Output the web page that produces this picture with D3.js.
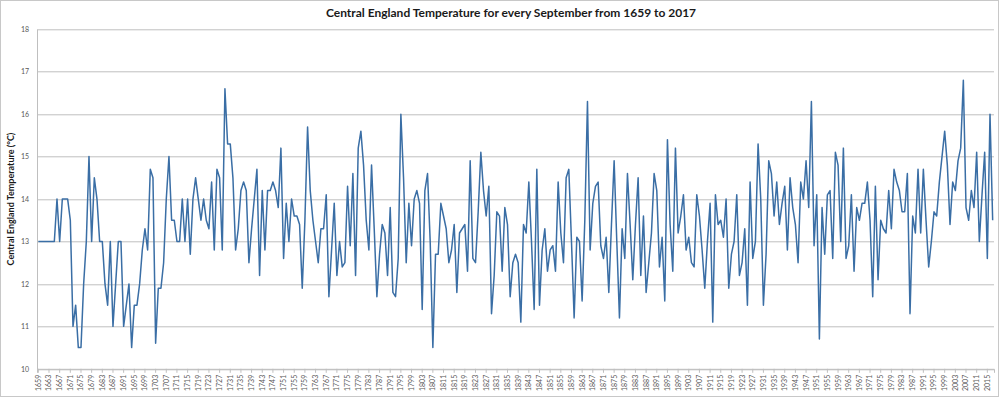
<!DOCTYPE html>
<html>
<head>
<meta charset="utf-8">
<script src="https://cdn.jsdelivr.net/npm/d3@7"></script>
<style>
    body { margin: 0; background: #fff; }
    text { font-family: Lato, "Open Sans", sans-serif; }
</style>
</head>
<body>
<svg id="chart"></svg>
<script>
// September mean temperature, one value per year 1659..2017
var years = d3.range(1659, 2018);
var temps = [
    13, 13, 13, 13, 13, 13, 13, 14, 13, 14,
    14, 14, 13.5, 11, 11.5, 10.5, 10.5, 12, 13, 15,
    13, 14.5, 14, 13, 13, 12, 11.5, 13, 11, 12,
    13, 13, 11, 11.5, 12, 10.5, 11.5, 11.5, 12, 12.8,
    13.3, 12.8, 14.7, 14.5, 10.6, 11.9, 11.9, 12.5, 14, 15,
    13.5, 13.5, 13, 13, 14, 13, 14, 12.7, 14, 14.5,
    14, 13.5, 14, 13.5, 13.3, 14.4, 12.8, 14.7, 14.5, 12.8,
    16.6, 15.3, 15.3, 14.5, 12.8, 13.3, 14.2, 14.4, 14.2, 12.5,
    13.3, 14, 14.7, 12.2, 14.2, 12.8, 14.2, 14.2, 14.4, 14.2,
    13.8, 15.2, 12.6, 13.9, 13.0, 14, 13.6, 13.6, 13.4, 11.9,
    13.5, 15.7, 14.2, 13.5, 13.0, 12.5, 13.3, 13.3, 14.1, 11.7,
    12.8, 13.9, 12.2, 13.0, 12.4, 12.5, 14.3, 12.9, 14.6, 12.2,
    15.2, 15.6, 14.8, 13.5, 12.8, 14.8, 13.3, 11.7, 12.7, 13.4,
    13.2, 12.2, 13.8, 11.8, 11.7, 12.6, 16.0, 14.5, 12.5, 13.9,
    12.9, 14.0, 14.2, 13.9, 11.4, 14.2, 14.6, 13.0, 10.5, 12.7,
    12.7, 13.9, 13.6, 13.3, 12.5, 12.8, 13.4, 11.8, 13.2, 13.3,
    13.4, 12.3, 14.9, 12.6, 12.5, 13.7, 15.1, 14.2, 13.6, 14.3,
    11.3, 12.2, 13.7, 13.6, 12.3, 13.8, 13.4, 11.7, 12.5, 12.7,
    12.5, 11.1, 13.4, 13.2, 14.4, 13.0, 11.4, 14.7, 11.5, 12.8,
    13.3, 12.3, 12.8, 12.9, 12.3, 14.4, 13.2, 12.5, 14.5, 14.7,
    13.0, 11.2, 13.1, 13.0, 11.6, 13.5, 16.3, 12.8, 13.9, 14.3,
    14.4, 12.9, 12.6, 13.1, 11.8, 13.4, 14.9, 13.0, 11.2, 13.3,
    12.6, 14.6, 13.4, 12.1, 13.4, 14.5, 12.2, 13.6, 11.8, 12.5,
    13.2, 14.6, 14.2, 12.4, 13.1, 11.6, 15.4, 13.4, 12.3, 15.2,
    13.2, 13.6, 14.1, 12.8, 13.1, 12.5, 12.4, 14.1, 13.6, 12.8,
    11.9, 13.0, 13.9, 11.1, 14.1, 13.4, 13.5, 13.1, 14.0, 11.9,
    12.7, 13.0, 14.1, 12.2, 12.5, 13.3, 11.5, 14.4, 12.6, 13.0,
    15.3, 14.0, 11.5, 12.7, 14.9, 14.6, 13.6, 14.4, 13.4, 13.9,
    14.3, 12.8, 14.5, 13.8, 13.4, 12.5, 14.4, 14.0, 14.9, 13.8,
    16.3, 12.9, 14.1, 10.7, 13.8, 12.7, 14.1, 14.2, 12.6, 15.1,
    14.8, 13.0, 15.2, 12.6, 12.9, 14.1, 12.3, 13.8, 13.5, 13.9,
    13.9, 14.4, 13.5, 11.7, 14.3, 12.1, 13.5, 13.3, 13.2, 14.2,
    13.3, 14.7, 14.4, 14.2, 13.7, 13.7, 14.6, 11.3, 13.6, 13.2,
    14.7, 13.2, 14.7, 13.5, 12.4, 13.0, 13.7, 13.6, 14.4, 15.0,
    15.6, 14.8, 13.4, 14.4, 14.2, 14.9, 15.2, 16.8, 13.8, 13.5,
    14.2, 13.8, 15.1, 13.0, 14.1, 15.1, 12.6, 16.0, 13.5
];
var yTicks = [10, 11, 12, 13, 14, 15, 16, 17, 18];
var xTickYears = d3.range(1659, 2016, 4);

var title = "Central England Temperature for every September from 1659 to 2017",
    yTitle = "Central England Temperature (°C)";

var W = 1000,
    H = 398,
    margin = {"top": 29.3, "right": 6, "bottom": 29.2, "left": 37},
    width = W - margin.left - margin.right,
    height = H - margin.top - margin.bottom;

var svg = d3.select("svg#chart")
        .attr("width", W)
        .attr("height", H);

svg.append("rect")
    .attr("x", 0.5).attr("y", 0.5)
    .attr("width", W - 2).attr("height", H - 2)
    .attr("fill", "#fff")
    .attr("stroke", "#c8c8c8");

var g = svg.append("g")
    .attr("transform", "translate(" + [margin.left, margin.top] + ")");

var x = d3.scaleBand()
    .domain(years)
    .range([0, width])
    .padding(0);

var y = d3.scaleLinear()
    .domain([10, 18])
    .range([height, 0]);

var xc = function(yr) {
    return x(yr) + x.bandwidth() / 2;
};

// gridlines
g.selectAll("line.grid")
    .data(yTicks)
    .enter()
    .append("line")
        .attr("class", "grid")
        .attr("x1", 0)
        .attr("x2", width)
        .attr("y1", function(d) { return Math.round(y(d)) + 0.5; })
        .attr("y2", function(d) { return Math.round(y(d)) + 0.5; })
        .attr("stroke", "#bfbfbf")
        .attr("stroke-width", 1);

// y axis
var yAxis = g.append("g")
    .call(d3.axisLeft(y).tickValues(yTicks).tickSize(0).tickPadding(8));
yAxis.select(".domain").attr("stroke", "#bfbfbf");
yAxis.selectAll("text")
    .style("font-size", "7px")
    .attr("fill", "#595959");

// x axis
var xAxis = g.append("g")
    .attr("transform", "translate(0," + height + ")")
    .call(d3.axisBottom(x).tickValues(xTickYears).tickSize(4).tickFormat(d3.format("d")));
xAxis.select(".domain").attr("stroke", "#bfbfbf");
xAxis.selectAll(".tick line").attr("stroke", "#bfbfbf");
xAxis.selectAll("text")
    .style("font-size", "7px")
    .attr("fill", "#595959")
    .attr("text-anchor", "end")
    .attr("transform", "rotate(-90)")
    .attr("x", -6)
    .attr("y", 0)
    .attr("dy", "0.35em");

// the series
var line = d3.line()
    .x(function(d, i) { return xc(years[i]); })
    .y(function(d) { return y(d); });

g.append("path")
    .datum(temps)
    .attr("d", line)
    .attr("fill", "none")
    .attr("stroke", "#3a6ea5")
    .attr("stroke-width", 1.5)
    .attr("stroke-linejoin", "round");

svg.append("text")
    .attr("x", 511)
    .attr("y", 17)
    .attr("text-anchor", "middle")
    .style("font-size", "12px")
    .style("font-weight", "bold")
    .attr("fill", "#1a1a1a")
    .text(title);

svg.append("text")
    .attr("transform", "translate(" + [14, margin.top + height / 2] + ") rotate(-90)")
    .attr("text-anchor", "middle")
    .style("font-size", "9px")
    .style("font-weight", "bold")
    .attr("fill", "#1a1a1a")
    .text(yTitle);
</script>
</body>
</html>
